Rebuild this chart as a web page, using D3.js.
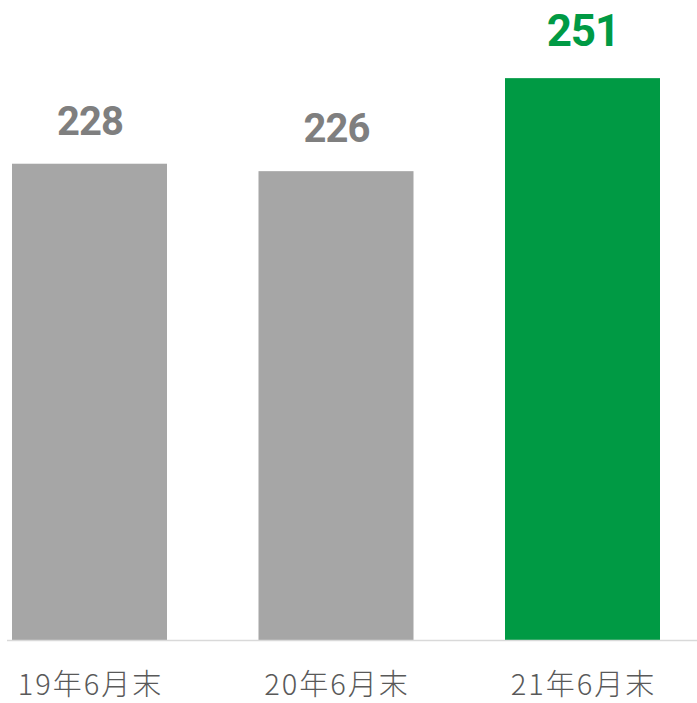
<!DOCTYPE html>
<html>
<head>
<meta charset="utf-8">
<script src="https://cdn.jsdelivr.net/npm/d3@7"></script>
<style>
  body { margin: 0; background: #fff; }
  svg { display: block; }
</style>
</head>
<body>
<svg width="697" height="703"></svg>
<script>
var categories = ["19年6月末", "20年6月末", "21年6月末"];
var values = [228, 226, 251];
var highlight = [false, false, true];

var svg = d3.select("svg"),
  baseY = 640;

var x = d3.scaleBand()
  .domain(categories)
  .range([12, 660])
  .paddingInner(91.5 / 246.5)
  .paddingOuter(0);

// axis does not start at zero
var y = d3.scaleLinear().domain([100, 272]).range([baseY, 0]);

svg.selectAll("rect.bar")
  .data(values)
  .enter().append("rect")
  .attr("class", "bar")
  .attr("x", function(d, i) { return x(categories[i]); })
  .attr("y", function(d) { return y(d); })
  .attr("width", x.bandwidth())
  .attr("height", function(d) { return baseY - y(d); })
  .attr("fill", function(d, i) { return highlight[i] ? "#009a44" : "#a6a6a6"; });

// baseline
svg.append("line")
  .attr("x1", 7).attr("x2", 697)
  .attr("y1", baseY + 0.5).attr("y2", baseY + 0.5)
  .attr("stroke", "#d9d9d9")
  .attr("stroke-width", 1.5);

// value labels
svg.selectAll("text.val")
  .data(values)
  .enter().append("text")
  .attr("class", "val")
  .attr("x", function(d, i) { return x(categories[i]) + x.bandwidth() / 2 + 0.5; })
  .attr("y", function(d, i) { return y(d) - (highlight[i] ? 32 : 29); })
  .attr("text-anchor", "middle")
  .attr("font-family", "Roboto, 'Liberation Sans', sans-serif")
  .attr("font-weight", "bold")
  .attr("font-size", function(d, i) { return highlight[i] ? 44 : 40; })
  .attr("letter-spacing", "-1px")
  .attr("fill", function(d, i) { return highlight[i] ? "#009a44" : "#7f7f7f"; })
  .text(function(d) { return d; });

// category labels
svg.selectAll("text.cat")
  .data(categories)
  .enter().append("text")
  .attr("class", "cat")
  .attr("x", function(d) { return x(d) + x.bandwidth() / 2 + 1; })
  .attr("y", 695)
  .attr("text-anchor", "middle")
  .attr("font-family", "'Noto Sans CJK JP', sans-serif")
  .attr("font-weight", 300)
  .attr("font-size", 29)
  .attr("letter-spacing", "2px")
  .attr("fill", "#595959")
  .text(function(d) { return d; });
</script>
</body>
</html>
